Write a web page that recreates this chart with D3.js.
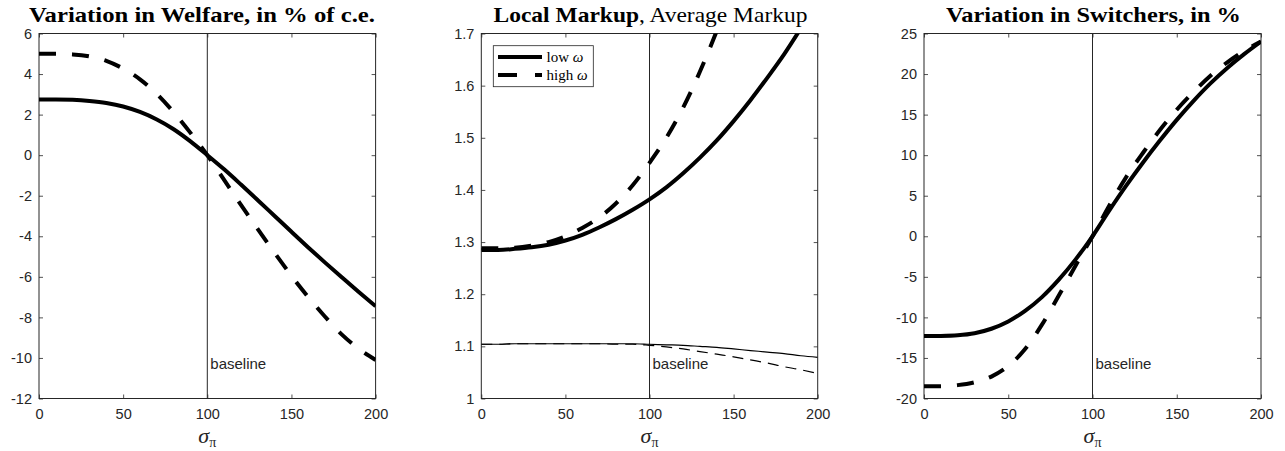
<!DOCTYPE html>
<html>
<head>
<meta charset="utf-8">
<script src="https://cdn.jsdelivr.net/npm/d3@7"></script>
<style>
  body { margin: 0; background: #fff; }
  svg { display: block; }
</style>
</head>
<body>
<svg id="chart" width="1285" height="451"></svg>
<script>
'use strict';

// sigma_pi grid shared by every curve
const sigma = [0, 10, 20, 30, 40, 50, 60, 70, 80, 90, 100, 110, 120, 130, 140, 150, 160, 170, 180, 190, 200];

// welfare variation, % of c.e.
const welfareLow  = [2.75, 2.75, 2.73, 2.67, 2.57, 2.40, 2.13, 1.76, 1.28, 0.68, 0, -0.7, -1.45, -2.22, -3.0, -3.78, -4.55, -5.3, -6.03, -6.75, -7.45];
const welfareHigh = [5.0, 5.0, 4.97, 4.87, 4.65, 4.27, 3.74, 3.02, 2.12, 1.1, 0, -1.22, -2.45, -3.65, -4.82, -5.95, -7.0, -7.97, -8.85, -9.55, -10.1];

// local markup (thick) and average markup (thin); null = off the top of the axes
const localLow    = [1.285, 1.285, 1.287, 1.29, 1.295, 1.303, 1.314, 1.328, 1.344, 1.362, 1.382, 1.405, 1.432, 1.462, 1.495, 1.532, 1.572, 1.615, 1.66, 1.71, null];
const localHigh   = [1.288, 1.288, 1.289, 1.293, 1.30, 1.311, 1.327, 1.347, 1.374, 1.409, 1.452, 1.50, 1.558, 1.627, 1.705, null, null, null, null, null, null];
const averageLow  = [1.104, 1.104, 1.105, 1.105, 1.105, 1.105, 1.105, 1.105, 1.105, 1.105, 1.104, 1.103, 1.102, 1.100, 1.098, 1.095, 1.092, 1.089, 1.086, 1.082, 1.079];
const averageHigh = [1.104, 1.104, 1.105, 1.105, 1.105, 1.105, 1.105, 1.105, 1.104, 1.104, 1.102, 1.099, 1.095, 1.09, 1.085, 1.08, 1.074, 1.068, 1.061, 1.055, 1.048];

// switchers variation, %
const switchLow   = [-12.3, -12.28, -12.2, -11.95, -11.4, -10.5, -9.2, -7.5, -5.35, -2.85, 0, 3.2, 6.25, 9.1, 11.8, 14.35, 16.7, 18.85, 20.75, 22.45, 24.0];
const switchHigh  = [-18.5, -18.48, -18.35, -18.0, -17.3, -16.0, -13.9, -10.9, -7.3, -3.6, 0, 3.8, 7.3, 10.3, 13.1, 15.6, 17.8, 19.8, 21.45, 22.85, 24.0];

const xTicks = [0, 50, 100, 150, 200];
const welfareTicks = [-12, -10, -8, -6, -4, -2, 0, 2, 4, 6];
const markupTicks  = [1, 1.1, 1.2, 1.3, 1.4, 1.5, 1.6, 1.7];
const switchTicks  = [-20, -15, -10, -5, 0, 5, 10, 15, 20, 25];
const legendLabels = ['low', 'high'];
const baselineX = 100;

const svg = d3.select('#chart');
svg.append('rect').attr('width', 1285).attr('height', 451).attr('fill', '#fff');

const plotTop = 33.5, plotBottom = 398.5;
const ink = '#262626';
const thickDash = '17,16', thinDash = '11,7';

const panels = [
  { left: 39, right: 375.6, ticks: welfareTicks, title: [['Variation in Welfare, in % of c.e.', 'bold']], titleX: 202, titleLen: 346,
    series: [{ y: welfareLow, w: 4, dash: null }, { y: welfareHigh, w: 4, dash: thickDash }] },
  { left: 481.3, right: 817.7, ticks: markupTicks, title: [['Local Markup', 'bold'], [', Average Markup', 'normal']], titleX: 650.5, titleLen: 314,
    series: [{ y: localLow, w: 4, dash: null }, { y: localHigh, w: 4, dash: thickDash },
             { y: averageLow, w: 1.2, dash: null }, { y: averageHigh, w: 1.2, dash: thinDash }], legend: true },
  { left: 924, right: 1261, ticks: switchTicks, title: [['Variation in Switchers, in %', 'bold']], titleX: 1093.5, titleLen: 295,
    series: [{ y: switchLow, w: 4, dash: null }, { y: switchHigh, w: 4, dash: thickDash }] }
];

panels.forEach(function(p, pi) {
  const x = d3.scaleLinear().domain([0, 200]).range([p.left, p.right]);
  const y = d3.scaleLinear().domain(d3.extent(p.ticks)).range([plotBottom, plotTop]);
  const g = svg.append('g');

  const clipId = 'clip' + pi;
  svg.append('clipPath').attr('id', clipId).append('rect')
    .attr('x', p.left).attr('y', plotTop).attr('width', p.right - p.left).attr('height', plotBottom - plotTop);

  // axes with inward ticks, MATLAB style box
  const fmt = d => String(+d.toFixed(1));
  g.append('g').attr('transform', `translate(0,${plotBottom})`)
    .call(d3.axisBottom(x).tickValues(xTicks).tickSize(-4).tickPadding(10).tickFormat(fmt));
  g.append('g').attr('transform', `translate(${p.left},0)`)
    .call(d3.axisLeft(y).tickValues(p.ticks).tickSize(-4).tickPadding(7).tickFormat(fmt));
  g.append('g').attr('transform', `translate(0,${plotTop})`)
    .call(d3.axisTop(x).tickValues(xTicks).tickSize(-4).tickFormat(''));
  g.append('g').attr('transform', `translate(${p.right},0)`)
    .call(d3.axisRight(y).tickValues(p.ticks).tickSize(-4).tickFormat(''));
  g.selectAll('.domain').remove();
  g.selectAll('.tick line').attr('stroke', ink).attr('stroke-width', 0.8);
  g.selectAll('.tick text').attr('fill', ink).style('font-family', 'Liberation Sans, Arial, sans-serif').style('font-size', '14.5px');

  g.append('rect').attr('x', p.left).attr('y', plotTop).attr('width', p.right - p.left).attr('height', plotBottom - plotTop)
    .attr('fill', 'none').attr('stroke', ink).attr('stroke-width', 1);

  // baseline marker
  g.append('line').attr('x1', x(baselineX)).attr('x2', x(baselineX)).attr('y1', plotTop).attr('y2', plotBottom)
    .attr('stroke', ink).attr('stroke-width', 1);
  g.append('text').attr('x', x(baselineX) + 3).attr('y', plotBottom - 30)
    .attr('fill', ink).style('font-family', 'Liberation Sans, Arial, sans-serif').style('font-size', '15px')
    .text('baseline');

  // curves
  const line = d3.line()
    .defined(d => d[1] !== null)
    .x(d => x(d[0]))
    .y(d => y(d[1]))
    .curve(d3.curveMonotoneX);
  p.series.forEach(function(s) {
    g.append('path').attr('clip-path', `url(#${clipId})`)
      .attr('d', line(sigma.map((v, i) => [v, s.y[i]])))
      .attr('fill', 'none').attr('stroke', '#000').attr('stroke-width', s.w)
      .attr('stroke-dasharray', s.dash);
  });

  // title
  const t = svg.append('text').attr('x', p.titleX).attr('y', 22).attr('text-anchor', 'middle')
    .attr('textLength', p.titleLen).attr('lengthAdjust', 'spacingAndGlyphs')
    .style('font-family', 'Liberation Serif, Times New Roman, serif').style('font-size', '21px').attr('fill', '#000');
  p.title.forEach(function(part) {
    t.append('tspan').style('font-weight', part[1]).text(part[0]);
  });

  // x label sigma_pi
  const xl = svg.append('text').attr('x', (p.left + p.right) / 2).attr('y', 443).attr('text-anchor', 'middle')
    .style('font-family', 'Liberation Serif, Times New Roman, serif').attr('fill', ink);
  xl.append('tspan').style('font-style', 'italic').style('font-size', '22px').text('σ');
  xl.append('tspan').attr('dy', 4).style('font-size', '14px').text('π');

  // legend
  if (p.legend) {
    const lg = svg.append('g');
    lg.append('rect').attr('x', 493.3).attr('y', 45.7).attr('width', 100).attr('height', 41)
      .attr('fill', '#fff').attr('stroke', ink).attr('stroke-width', 0.8);
    legendLabels.forEach(function(lab, i) {
      const yy = 57 + i * 18;
      lg.append('line').attr('x1', 498).attr('x2', 542).attr('y1', yy).attr('y2', yy)
        .attr('stroke', '#000').attr('stroke-width', 4).attr('stroke-dasharray', i ? '19,18,7' : null);
      const tx = lg.append('text').attr('x', 546.5).attr('y', yy + 4.5)
        .style('font-family', 'Liberation Serif, Times New Roman, serif').style('font-size', '15px').attr('fill', '#000');
      tx.append('tspan').text(lab + ' ');
      tx.append('tspan').style('font-style', 'italic').text('ω');
    });
  }
});
</script>
</body>
</html>
